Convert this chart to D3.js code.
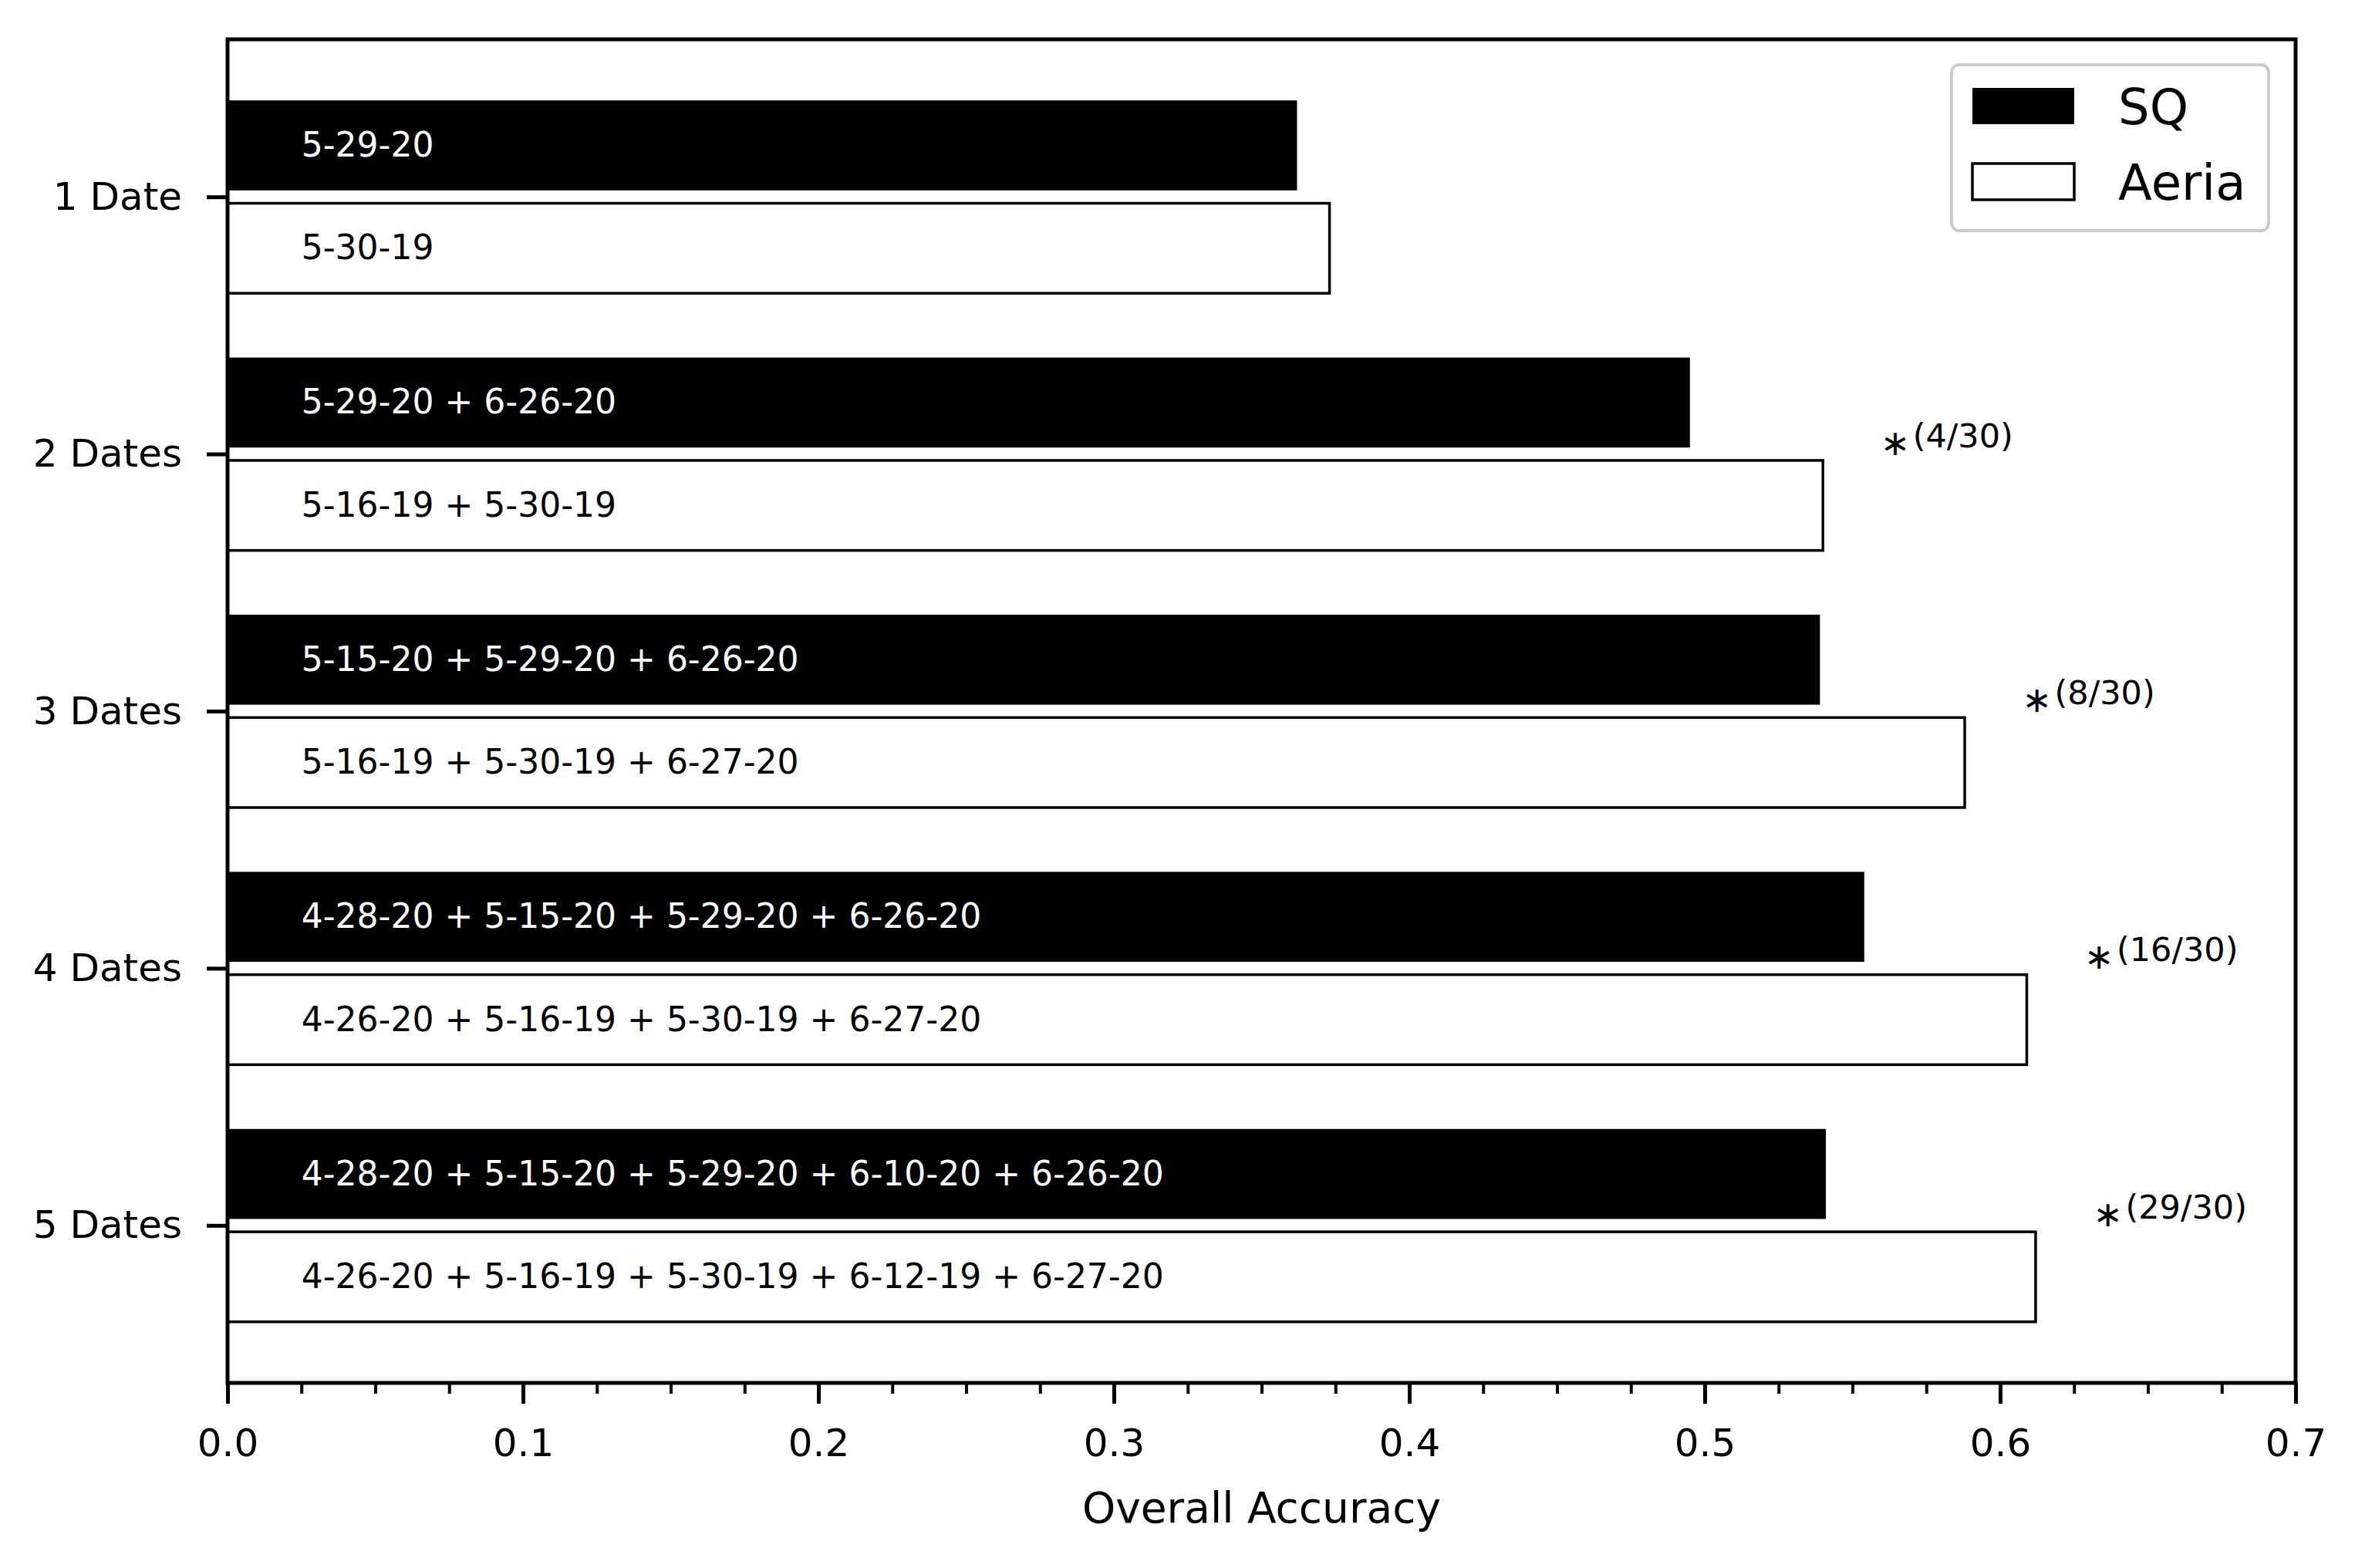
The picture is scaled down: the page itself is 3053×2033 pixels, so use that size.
<!DOCTYPE html>
<html>
<head>
<meta charset="utf-8">
<script src="https://cdn.jsdelivr.net/npm/d3@7"></script>
<style>
    body{margin:0;background:#fff;}
    text{font-family:"DejaVu Sans", sans-serif;}
</style>
</head>
<body>
<div id="chart"></div>
<script>
'use strict';

// values
const categories = ["1 Date", "2 Dates", "3 Dates", "4 Dates", "5 Dates"];
const seriesNames = ["SQ", "Aeria"];
const sqValues = [0.362, 0.495, 0.539, 0.554, 0.541];
const aeriaValues = [0.373, 0.540, 0.588, 0.609, 0.612];
const sqLabels = [
    "5-29-20",
    "5-29-20 + 6-26-20",
    "5-15-20 + 5-29-20 + 6-26-20",
    "4-28-20 + 5-15-20 + 5-29-20 + 6-26-20",
    "4-28-20 + 5-15-20 + 5-29-20 + 6-10-20 + 6-26-20"
];
const aeriaLabels = [
    "5-30-19",
    "5-16-19 + 5-30-19",
    "5-16-19 + 5-30-19 + 6-27-20",
    "4-26-20 + 5-16-19 + 5-30-19 + 6-27-20",
    "4-26-20 + 5-16-19 + 5-30-19 + 6-12-19 + 6-27-20"
];
const significance = [null, "(4/30)", "(8/30)", "(16/30)", "(29/30)"];
const xTicks = [0.0, 0.1, 0.2, 0.3, 0.4, 0.5, 0.6, 0.7];
const xLabel = "Overall Accuracy";

const width = 3053, height = 2033;
const margin = {left: 295, right: width - 2976, top: 51, bottom: height - 1793};
const barH = 0.35, offset = 0.2;

const svg = d3.select("#chart").append("svg")
    .attr("width", width)
    .attr("height", height);

const x = d3.scaleLinear().domain([0, 0.7]).range([margin.left, width - margin.right]);
const y = d3.scaleLinear().domain([-0.6125, 4.6125]).range([margin.top, height - margin.bottom]);

const plot = svg.append("g");

// SQ bars (black)
plot.selectAll("rect.sq").data(sqValues).join("rect")
    .attr("class", "sq")
    .attr("x", x(0))
    .attr("y", (d, i) => y(i - offset - barH / 2))
    .attr("width", d => x(d) - x(0))
    .attr("height", y(barH) - y(0))
    .style("fill", "#000");

// Aeria bars (white, outlined)
plot.selectAll("rect.aeria").data(aeriaValues).join("rect")
    .attr("class", "aeria")
    .attr("x", x(0))
    .attr("y", (d, i) => y(i + offset - barH / 2))
    .attr("width", d => x(d) - x(0))
    .attr("height", y(barH) - y(0))
    .style("fill", "#fff")
    .style("stroke", "#000")
    .style("stroke-width", 3.5);

// labels inside the bars
plot.selectAll("text.sqlab").data(sqLabels).join("text")
    .attr("class", "sqlab")
    .attr("x", x(0.025))
    .attr("y", (d, i) => y(i - offset))
    .attr("dy", "0.33em")
    .style("font-size", "44px")
    .style("fill", "#fff")
    .text(d => d);

plot.selectAll("text.aerlab").data(aeriaLabels).join("text")
    .attr("class", "aerlab")
    .attr("x", x(0.025))
    .attr("y", (d, i) => y(i + offset))
    .attr("dy", "0.33em")
    .style("font-size", "44px")
    .style("fill", "#000")
    .text(d => d);

// significance marks
const sig = plot.selectAll("g.sig")
    .data(significance.map((s, i) => ({s, i, v: aeriaValues[i]})).filter(d => d.s))
    .join("g")
    .attr("class", "sig")
    .attr("transform", d => `translate(${x(d.v + 0.0205)},${y(d.i) - 9})`);
sig.append("text")
    .attr("x", -4)
    .attr("y", 10)
    .style("font-size", "46px")
    .text("\u2217");
sig.append("text")
    .attr("x", 38)
    .attr("y", 0)
    .style("font-size", "43px")
    .text(d => d.s);

// axes
const xMinor = d3.range(0, 0.7001, 0.025).filter(v => Math.abs(v * 10 - Math.round(v * 10)) > 1e-6);
svg.append("g")
    .attr("transform", `translate(0,${height - margin.bottom})`)
    .call(d3.axisBottom(x).tickValues(xMinor).tickSize(14).tickFormat(""))
    .call(g => g.select(".domain").remove())
    .call(g => g.selectAll("line").attr("stroke-width", 4));

const xAxis = svg.append("g")
    .attr("transform", `translate(0,${height - margin.bottom})`)
    .call(d3.axisBottom(x).tickValues(xTicks).tickSize(27).tickPadding(32).tickFormat(d3.format(".1f")));
xAxis.select(".domain").remove();
xAxis.selectAll("line").attr("stroke-width", 5);
xAxis.selectAll("text").style("font-size", "50px").attr("fill", "#000")
    .attr("font-family", "DejaVu Sans");

const yAxis = svg.append("g")
    .attr("transform", `translate(${margin.left},0)`)
    .call(d3.axisLeft(y).tickValues(d3.range(categories.length)).tickSize(27).tickPadding(32)
        .tickFormat(i => categories[i]));
yAxis.select(".domain").remove();
yAxis.selectAll("line").attr("stroke-width", 5);
yAxis.selectAll("text").style("font-size", "50px").attr("fill", "#000")
    .attr("font-family", "DejaVu Sans");

// frame
svg.append("rect")
    .attr("x", margin.left)
    .attr("y", margin.top)
    .attr("width", width - margin.left - margin.right)
    .attr("height", height - margin.top - margin.bottom)
    .style("fill", "none")
    .style("stroke", "#000")
    .style("stroke-width", 5);

svg.append("text")
    .attr("x", (margin.left + width - margin.right) / 2)
    .attr("y", 1974)
    .attr("text-anchor", "middle")
    .style("font-size", "55px")
    .text(xLabel);

// legend
const legend = svg.append("g").attr("transform", "translate(2530,84)");
legend.append("rect")
    .attr("width", 411)
    .attr("height", 215)
    .attr("rx", 10)
    .style("fill", "#fff")
    .style("stroke", "#cccccc")
    .style("stroke-width", 4);
const legendFill = ["#000", "#fff"];
seriesNames.forEach((name, i) => {
    legend.append("rect")
        .attr("x", 27)
        .attr("y", 30 + i * 98)
        .attr("width", 132)
        .attr("height", 47)
        .style("fill", legendFill[i])
        .style("stroke", "#000")
        .style("stroke-width", i === 0 ? 0 : 3.5);
    legend.append("text")
        .attr("x", 216)
        .attr("y", 77 + i * 98)
        .style("font-size", "64px")
        .text(name);
});
</script>
</body>
</html>
